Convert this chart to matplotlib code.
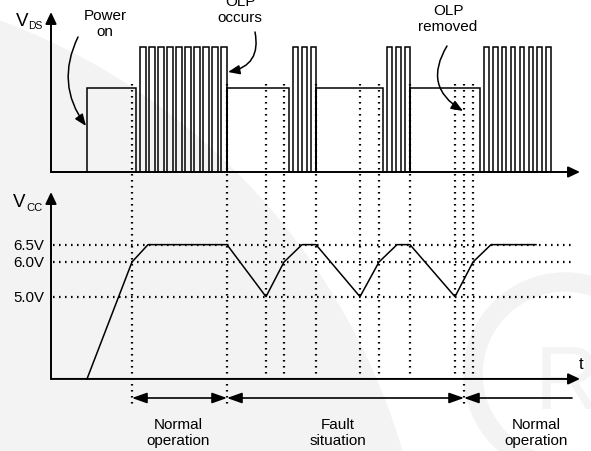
import matplotlib
matplotlib.use("Agg")
import matplotlib.pyplot as plt
from matplotlib.patches import FancyArrowPatch, Circle, Wedge, PathPatch
from matplotlib.textpath import TextPath
from matplotlib.font_manager import FontProperties
from matplotlib.transforms import Affine2D
import numpy as np

plt.rcParams['font.family'] = ['Liberation Sans', 'DejaVu Sans']

# ---------------- data (time axis in arbitrary units) ----------------
# V_DS levels (normalised)
vds_high = 1.0
vds_mid = 0.67
# start-up pulse (mid level)
startup_on, startup_off = 87, 136
# switching bursts: start time, number of pulses, period, on-width
burst_start = [140, 293, 387, 484]
burst_count = [10, 3, 3, 8]
burst_period = [9.0, 9.0, 9.0, 8.9]
burst_width = [5.5, 5.0, 5.0, 4.6]
# mid-level (off / hiccup) intervals
mid_start = [227, 316, 410]
mid_end = [289, 383, 480]

# V_CC curve (volts)
vcc_t = [87, 132, 148, 227, 266, 284, 302, 316, 360, 379, 397, 410, 455, 473, 491, 536]
vcc_v = [2.63, 6.0, 6.5, 6.5, 5.0, 6.0, 6.5, 6.5, 5.0, 6.0, 6.5, 6.5, 5.0, 6.0, 6.5, 6.5]
vcc_levels = [6.5, 6.0, 5.0]
vcc_labels = ["6.5V", "6.0V", "5.0V"]
vcc_axis_min = 2.63

# event markers (dotted vertical lines)
marker_t = [132, 227, 266, 284, 316, 360, 379, 410, 455, 464, 473]
long_markers = [132, 227, 464]

# phase spans
span_start = [132, 227, 464]
span_end = [227, 464, 572]
span_labels = ["Normal\noperation", "Fault\nsituation", "Normal\noperation"]
span_label_x = [178, 338, 536]

# ---------------- figure ----------------
W, H = 591, 452
fig = plt.figure(figsize=(W / 100, H / 100), dpi=100)
fig.patch.set_facecolor('white')

# overlay axes in pixel units
ov = fig.add_axes([0, 0, 1, 1])
ov.set_xlim(0, W)
ov.set_ylim(H, 0)
ov.axis('off')

# top axes (V_DS): v=0 at px 173, v=1 at px 48
py0, py1 = 173, 48
s = py0 - py1
top = fig.add_axes([0, 0, 1, 1], facecolor='none')
top.set_xlim(0, W)
top.set_ylim(-(H - py0) / s, py0 / s)
top.axis('off')

# bottom axes (V_CC): 6.0V at px 263, 34.7 px/V
ppv = 34.7
bot = fig.add_axes([0, 0, 1, 1], facecolor='none')
bot.set_xlim(0, W)
bot.set_ylim(6.0 - (H - 263) / ppv, 6.0 + 263 / ppv)
bot.axis('off')

# faint watermark background
ov.add_patch(Circle((-230, 640), 660, color='#f3f3f3', zorder=0, lw=0))
ov.add_patch(Wedge((300, 760), 560, 95, 140, width=60, color='white', zorder=0.5, lw=0))
ov.add_patch(Circle((565, 375), 92, fill=False, ec='#f3f3f3', lw=14, zorder=0.6))
tp = TextPath((0, 0), "R", size=90, prop=FontProperties(family='Liberation Sans'))
tr = Affine2D().scale(1, -1).translate(535, 410)
ov.add_patch(PathPatch(tr.transform_path(tp), color='#f4f4f4', lw=0, zorder=0.6))

lw = 1.1
ink = 'black'

# ---- V_DS waveform ----
xs, ys = [51, startup_on, startup_on, startup_off, startup_off], [0, 0, vds_mid, vds_mid, 0]
for i, (b0, n, per, w) in enumerate(zip(burst_start, burst_count, burst_period, burst_width)):
    for k in range(n):
        t0 = b0 + k * per
        xs += [t0, t0, t0 + w, t0 + w]
        ys += [0, vds_high, vds_high, 0]
    if i < len(mid_start):
        xs += [mid_start[i], mid_start[i], mid_end[i], mid_end[i]]
        ys += [0, vds_mid, vds_mid, 0]
top.plot(xs, ys, color=ink, lw=lw, solid_joinstyle='miter', zorder=3)

# axes lines with arrows
def arrow(ax, p0, p1, hl=7, hw=3.3, lw_=1.4, style='-|>'):
    a = FancyArrowPatch(p0, p1, arrowstyle=f'{style},head_length={hl},head_width={hw}',
                        mutation_scale=1, color=ink, lw=lw_, shrinkA=0, shrinkB=0, zorder=4)
    ax.add_patch(a)

arrow(top, (51, 0), (51, (py0 - 13) / s))
arrow(top, (51, 0), (580, 0))
arrow(bot, (51, vcc_axis_min), (51, 6.0 + (263 - 193) / ppv))
arrow(bot, (51, vcc_axis_min), (580, vcc_axis_min))

# ---- V_CC curve ----
bot.plot(vcc_t, vcc_v, color=ink, lw=lw, zorder=3)

dot = dict(color=ink, lw=1.6, linestyle=(0, (0.7, 2.0)), zorder=2)
for v, lab in zip(vcc_levels, vcc_labels):
    bot.plot([53, 575], [v, v], **dot)
    bot.text(44, v, lab, ha='right', va='center', fontsize=10.8)

# dotted event markers
for t in marker_t:
    yb = 408 if t in long_markers else 378
    ov.plot([t, t], [85, yb], **dot)

# ---- phase spans ----
for a0, a1, lab, lx in zip(span_start, span_end, span_labels, span_label_x):
    style = '<|-|>' if a1 < 560 else '<|-'
    arrow(ov, (a0, 399), (a1, 399), hl=9, hw=3.2, lw_=1.2, style=style)
    ov.text(lx, 433, lab, ha='center', va='center', fontsize=11, linespacing=1.25)

# ---- labels ----
ov.text(16, 22, "V", fontsize=13.5, ha='left', va='center')
ov.text(28, 26, "DS", fontsize=7.5, ha='left', va='center')
ov.text(13, 203, "V", fontsize=13.5, ha='left', va='center')
ov.text(26, 208, "CC", fontsize=8, ha='left', va='center')
ov.text(581, 365, "t", fontsize=12, ha='center', va='center')

ov.text(105, 24, "Power\non", ha='center', va='center', fontsize=11, linespacing=1.2)
ov.text(240, 10, "OLP\noccurs", ha='center', va='center', fontsize=11, linespacing=1.2)
ov.text(448, 19, "OLP\nremoved", ha='center', va='center', fontsize=11, linespacing=1.2)

def curved(p0, p1, rad):
    a = FancyArrowPatch(p0, p1, connectionstyle=f'arc3,rad={rad}',
                        arrowstyle='-|>,head_length=7,head_width=2.8', mutation_scale=1,
                        color=ink, lw=1.1, shrinkA=0, shrinkB=0, zorder=5)
    ov.add_patch(a)

curved((78, 38), (86, 127), 0.3)
curved((255, 33), (228, 73), -0.5)
curved((447, 47), (463, 112), 0.5)

fig.savefig("out.png", dpi=100, facecolor='white')
